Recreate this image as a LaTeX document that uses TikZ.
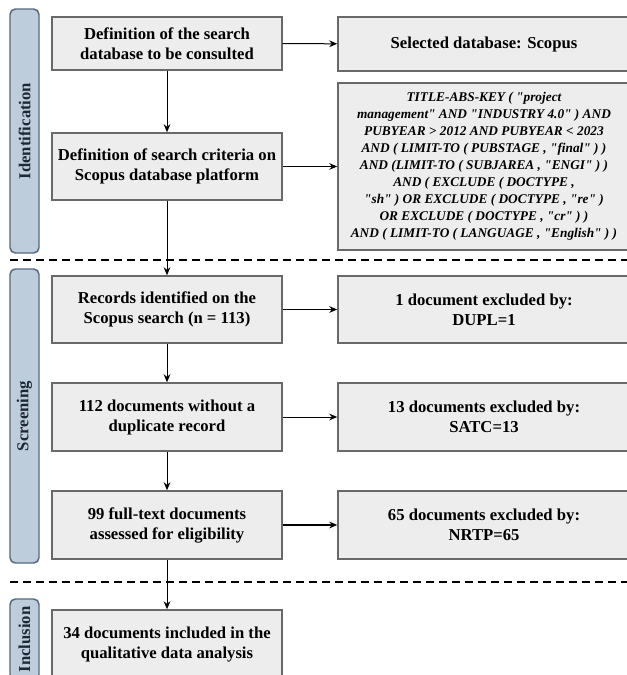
\documentclass[tikz,border=0pt]{standalone}
\usepackage{fontspec}
\setmainfont{Liberation Serif}[Ligatures=TeXOff]
\usetikzlibrary{arrows.meta}

\definecolor{boxfill}{RGB}{237,237,237}
\definecolor{boxline}{RGB}{105,105,105}
\definecolor{barfill}{RGB}{190,205,219}
\definecolor{barline}{RGB}{85,105,125}
\definecolor{bartext}{RGB}{30,40,52}

\tikzset{every picture/.style={line width=0.75pt}}
\tikzset{
  stepbox/.style={draw=boxline, fill=boxfill, line width=1.1pt, minimum width=172.5pt, align=center, inner sep=2pt, font=\fontsize{12.5}{15}\selectfont\bfseries},
  outbox/.style={stepbox, minimum width=219pt},
  querybox/.style={outbox, font=\fontsize{10}{12.75}\selectfont\bfseries\itshape},
  phasebar/.style={draw=barline, fill=barfill, line width=1.1pt, rounded corners=4pt, rotate=90, minimum height=21.75pt, inner sep=0pt, text=bartext, font=\fontsize{12.5}{14}\selectfont\bfseries},
  flow/.style={-{Stealth[length=6pt,width=5pt]}, line width=0.75pt},
  sepline/.style={line width=1.5pt, dash pattern=on 6pt off 3.75pt}
}

\begin{document}
\begin{tikzpicture}[x=0.75pt,y=0.75pt,yscale=-1,xscale=1]

\useasboundingbox (0,0) rectangle (627,675);
\clip (0,0) rectangle (627,675);

% phases
\node [phasebar, minimum width=183pt] (idn) at (24.5,131) {Identification};
\node [phasebar, minimum width=220.5pt] (scr) at (24.5,416) {Screening};
\node [phasebar, minimum width=60.75pt] (inc) at (24.5,639.5) {Inclusion};

\draw [sepline] (10,260) -- (627,260) ;
\draw [sepline] (10,582) -- (627,582) ;

% main flow
\node [stepbox, minimum height=39.75pt] (def1) at (167,43.5) {Definition of the search\\database to be consulted};
\node [stepbox, minimum height=50.25pt] (def2) at (167,166.5) {Definition of search criteria on\\Scopus database platform};
\node [stepbox, minimum height=50.25pt] (rec) at (167,309.5) {Records identified on the\\Scopus search (n = 113)};
\node [stepbox, minimum height=51pt] (nodup) at (167,417) {112 documents without a\\duplicate record};
\node [stepbox, minimum height=51pt] (full) at (167,525) {99 full-text documents\\assessed for eligibility};
\node [stepbox, minimum height=52.5pt] (incl) at (167,645) {34 documents included in the\\qualitative data analysis};

% side boxes
\node [outbox, minimum height=40.5pt] (sel) at (484,44) {Selected database: Scopus};
\node [querybox, minimum height=125.25pt] (crit) at (484,166.5) {TITLE-ABS-KEY ( "project\\management" AND "INDUSTRY 4.0" ) AND\\PUBYEAR > 2012 AND PUBYEAR < 2023\\AND ( LIMIT-TO ( PUBSTAGE , "final" ) )\\AND (LIMIT-TO ( SUBJAREA , "ENGI" ) )\\AND ( EXCLUDE ( DOCTYPE ,\\"sh" ) OR EXCLUDE ( DOCTYPE , "re" )\\OR EXCLUDE ( DOCTYPE , "cr" ) )\\AND ( LIMIT-TO ( LANGUAGE , "English" ) )};
\node [outbox, minimum height=50.25pt] (ex1) at (484,309.5) {1 document excluded by:\\DUPL=1};
\node [outbox, minimum height=51pt] (ex2) at (484,417) {13 documents excluded by:\\SATC=13};
\node [outbox, minimum height=51pt] (ex3) at (484,525) {65 documents excluded by:\\NRTP=65};

\draw [flow] (def1) -- (def2) ;
\draw [flow] (def2) -- (rec) ;
\draw [flow] (rec) -- (nodup) ;
\draw [flow] (nodup) -- (full) ;
\draw [flow] (full) -- (incl) ;

\draw [flow] (def1) -- (sel) ;
\draw [flow] (def2) -- (crit) ;
\draw [flow] (rec) -- (ex1) ;
\draw [flow] (nodup) -- (ex2) ;
\draw [flow, line width=1.3pt] (full) -- (ex3) ;

\end{tikzpicture}
\end{document}
